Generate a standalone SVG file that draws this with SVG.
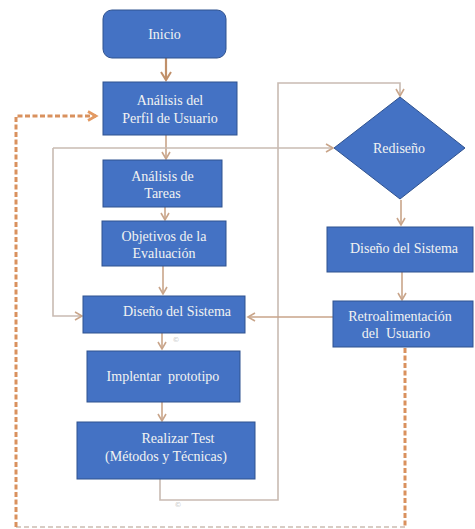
<svg xmlns="http://www.w3.org/2000/svg" width="475" height="529" viewBox="0 0 475 529">
<defs>
<style>
.box{fill:#4472C4;stroke:#2F528F;stroke-width:1}
.t{font-family:'Liberation Serif','DejaVu Serif',serif;font-size:14px;fill:#F2F2F2;text-anchor:middle}
.c{fill:none;stroke:#C9BBB2;stroke-width:1.6}
.a{fill:none;stroke:#C9A58A;stroke-width:1.6}
.d{fill:none;stroke:#D9915E;stroke-width:3;stroke-dasharray:5 2.5}
.dg{fill:none;stroke:#D8CCC4;stroke-width:2;stroke-dasharray:5 3}
.wm{font-family:'DejaVu Sans',sans-serif;font-size:7px;fill:#C8C8C8;text-anchor:middle}
</style>
<marker id="ah" markerWidth="10" markerHeight="10" refX="8" refY="5" orient="auto" markerUnits="userSpaceOnUse">
<path d="M1,1 L8,5 L1,9" fill="none" stroke="#C9A58A" stroke-width="1.6"/>
</marker>
<marker id="ahb" markerWidth="12" markerHeight="12" refX="9" refY="6" orient="auto" markerUnits="userSpaceOnUse">
<path d="M1,1 L9,6 L1,11" fill="none" stroke="#C0906A" stroke-width="2"/>
</marker>
<marker id="aho" markerWidth="12" markerHeight="12" refX="9" refY="6" orient="auto" markerUnits="userSpaceOnUse">
<path d="M1,1.5 L9,6 L1,10.5" fill="none" stroke="#E39A63" stroke-width="2.6"/>
</marker>
</defs>
<rect width="475" height="529" fill="#FFFFFF"/>
<g id="connectors">
<line x1="166" y1="58" x2="166" y2="80" stroke="#C0906A" stroke-width="2.2" marker-end="url(#ahb)"/>
<line x1="166" y1="135" x2="166" y2="159" class="a" marker-end="url(#ah)"/>
<polyline points="53,148 333,148" class="c" marker-end="url(#ah)"/>
<polyline points="53,148 53,316 82,316" class="c" marker-end="url(#ah)"/>
<line x1="165" y1="207" x2="165" y2="220" class="a" marker-end="url(#ah)"/>
<line x1="163" y1="266" x2="163" y2="294" class="a" marker-end="url(#ah)"/>
<line x1="162" y1="333" x2="162" y2="349" class="a" marker-end="url(#ah)"/>
<line x1="162" y1="402" x2="162" y2="421" class="a" marker-end="url(#ah)"/>
<polyline points="160,479 160,500 278,500 278,83 400,83 400,96" class="c" marker-end="url(#ah)"/>
<line x1="401" y1="200" x2="401" y2="225" class="a" marker-end="url(#ah)"/>
<line x1="402" y1="272" x2="402" y2="300" class="a" marker-end="url(#ah)"/>
<line x1="333" y1="317" x2="248" y2="317" class="a" marker-end="url(#ah)"/>
<polyline points="405,348 405,527" class="d"/>
<polyline points="405,527 16,527" class="dg"/>
<polyline points="16,527 16,116 96,116" class="d" marker-end="url(#aho)"/>
</g>
<g id="inicio">
<rect x="103" y="10" width="123" height="48" rx="9" class="box"/>
<text x="164.5" y="39" class="t">Inicio</text>
</g>
<g id="analisis-perfil">
<rect x="103" y="82" width="134" height="53" class="box"/>
<text x="170" y="105" class="t">Análisis del</text>
<text x="170" y="123" class="t">Perfil de Usuario</text>
</g>
<g id="analisis-tareas">
<rect x="103" y="160" width="119" height="47" class="box"/>
<text x="162.5" y="181" class="t">Análisis de</text>
<text x="162.5" y="198" class="t">Tareas</text>
</g>
<g id="objetivos">
<rect x="102" y="221" width="124" height="45" class="box"/>
<text x="164" y="241" class="t">Objetivos de la</text>
<text x="164" y="258" class="t">Evaluación</text>
</g>
<g id="diseno-sistema-1">
<rect x="83" y="296" width="162" height="37" class="box"/>
<text x="177" y="316" class="t">Diseño del Sistema</text>
</g>
<g id="implementar">
<rect x="87" y="351" width="153" height="51" class="box"/>
<text x="163" y="381" class="t" xml:space="preserve">Implentar  prototipo</text>
</g>
<g id="realizar-test">
<rect x="77" y="422" width="178" height="57" class="box"/>
<text x="178" y="443" class="t">Realizar Test</text>
<text x="166" y="461" class="t">(Métodos y Técnicas)</text>
</g>
<g id="rediseno">
<polygon points="400,97 465,148 400,199 334,148" class="box"/>
<text x="399" y="153" class="t">Rediseño</text>
</g>
<g id="diseno-sistema-2">
<rect x="327" y="227" width="146" height="45" class="box"/>
<text x="404" y="253" class="t">Diseño del Sistema</text>
</g>
<g id="retroalimentacion">
<rect x="333" y="301" width="140" height="46" class="box"/>
<text x="400" y="321" class="t">Retroalimentación</text>
<text x="396" y="338" class="t" xml:space="preserve">del  Usuario</text>
</g>
<text x="176" y="342" class="wm">©</text>
<text x="178" y="507" class="wm">©</text>
</svg>
